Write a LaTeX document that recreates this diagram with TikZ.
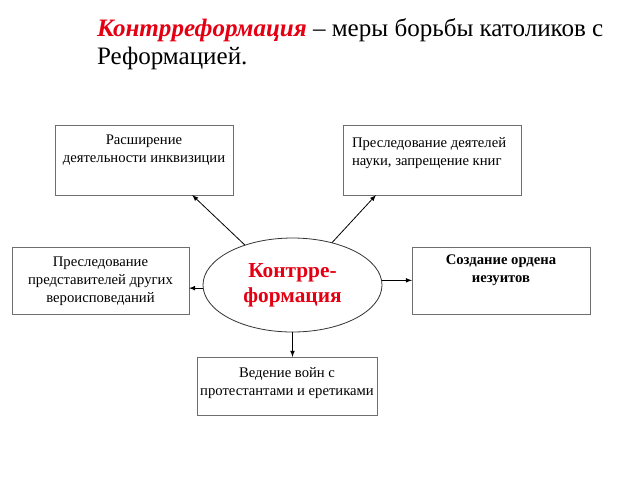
\documentclass[tikz,border=0pt]{standalone}
\usepackage{fontspec}
\setmainfont{Liberation Serif}
\usetikzlibrary{shapes.geometric,arrows,calc}
\definecolor{titlered}{RGB}{228,0,18}
\definecolor{boxgray}{RGB}{110,110,110}

\begin{document}
\begin{tikzpicture}[x=0.75pt, y=-0.75pt, outer sep=0pt, >=latex,
  box/.style={draw=boxgray, line width=0.6pt, rectangle, inner sep=0pt},
  boxtext/.style={anchor=north, align=center, inner sep=0pt,
    font=\fontsize{11}{13.5}\selectfont},
  link/.style={->, line width=0.6pt}]
\useasboundingbox (0,0) rectangle (640,480);

\node [anchor=north west, align=left, inner sep=0pt,
  font=\fontsize{18.8}{21}\selectfont] at (97, 19) (TITLE)
  {\textcolor{titlered}{\textbf{\textit{Контрреформация}}} – меры борьбы католиков с\\Реформацией.};

\node [box, minimum width=178*0.75pt, minimum height=70*0.75pt] at (144, 160) (INQ) {};
\node [box, minimum width=178*0.75pt, minimum height=70*0.75pt] at (432, 160) (SCIENCE) {};
\node [box, minimum width=177*0.75pt, minimum height=67*0.75pt] at (100.5, 280.5) (FAITH) {};
\node [box, minimum width=178*0.75pt, minimum height=67*0.75pt] at (501, 280.5) (JESUIT) {};
\node [box, minimum width=180*0.75pt, minimum height=58*0.75pt] at (287, 386) (WARS) {};

\node [boxtext] at ($(INQ.north)+(0, 10)$) (INQ_TXT)
  {Расширение\\деятельности инквизиции};
\node [boxtext, anchor=north west, align=left] at ($(SCIENCE.north west)+(9, 12)$) (SCIENCE_TXT)
  {Преследование деятелей\\науки, запрещение книг};
\node [boxtext] at ($(FAITH.north)+(0, 10)$) (FAITH_TXT)
  {Преследование\\представителей других\\вероисповеданий};
\node [boxtext, font=\fontsize{11}{13}\selectfont\bfseries] at ($(JESUIT.north)+(0, 8)$) (JESUIT_TXT)
  {Создание ордена\\иезуитов};
\node [boxtext] at ($(WARS.north)+(0, 10)$) (WARS_TXT)
  {Ведение войн с\\протестантами и еретиками};

\node [ellipse, draw=black!80, line width=0.6pt, inner sep=0pt,
  minimum width=179*0.75pt, minimum height=94*0.75pt, align=center,
  text=titlered, font=\fontsize{16}{19}\selectfont\bfseries] at (292.5, 285) (CENTER)
  {Контрре-\\формация};

\draw [link] (CENTER.140) -- (INQ.-36);
\draw [link] (CENTER.47) -- (SCIENCE.212);
\draw [link] (CENTER.182) -- (CENTER.182 -| FAITH.east);
\draw [link] (CENTER.3) -- (CENTER.3 -| JESUIT.west);
\draw [link] (CENTER.south) -- (CENTER.south |- WARS.north);
\end{tikzpicture}
\end{document}
